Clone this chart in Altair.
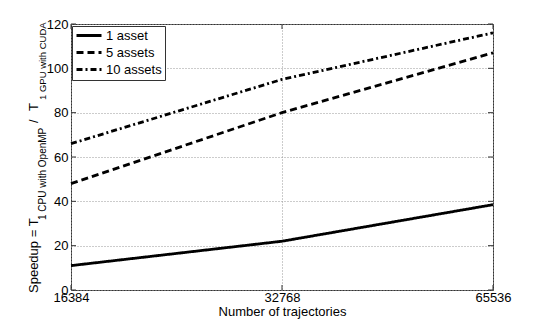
import altair as alt
import pandas as pd

# ---- data ----
trajectories = [16384, 32768, 65536]
series_names = ["1 asset", "5 assets", "10 assets"]
speedup_1 = [11.0, 22.0, 38.5]
speedup_5 = [48.0, 80.0, 107.0]
speedup_10 = [66.0, 95.0, 116.0]
y_ticks = [0, 20, 40, 60, 80, 100, 120]

rows = []
for name, vals in zip(series_names, [speedup_1, speedup_5, speedup_10]):
    for t, v in zip(trajectories, vals):
        rows.append({"trajectories": t, "speedup": v, "series": name})
df = pd.DataFrame(rows)

W, H = 422, 266
FONT = "Liberation Sans"
FRAME = "#333333"

x_scale = alt.Scale(type="log", base=2, domain=[16384, 65536], nice=False)
y_scale = alt.Scale(domain=[0, 120], nice=False)

common_axis = dict(
    domain=False, ticks=False, grid=True, gridDash=[1, 2], gridColor="#999999",
    gridWidth=1, labelFont=FONT, labelFontSize=13, labelColor="black",
    titleFont=FONT, titleFontSize=13, titleColor="black", titleFontWeight="normal",
    labelOverlap=False,
)
x_axis = alt.Axis(values=trajectories, format="d", title="Number of trajectories",
                  labelPadding=1, titlePadding=1, labelFlush=False, **common_axis)
y_axis = alt.Axis(values=y_ticks, title=None, labelPadding=3, **common_axis)

lines = alt.Chart(df).mark_line(strokeWidth=2.8, color="black").encode(
    x=alt.X("trajectories:Q", scale=x_scale, axis=x_axis),
    y=alt.Y("speedup:Q", scale=y_scale, axis=y_axis),
    strokeDash=alt.StrokeDash(
        "series:N",
        scale=alt.Scale(domain=series_names, range=[[1, 0], [7, 4], [6, 3, 2, 3]]),
        legend=alt.Legend(
            title=None, orient="none", legendX=1, legendY=2,
            strokeColor=FRAME, fillColor="white", padding=3,
            symbolType="stroke", symbolSize=625, symbolStrokeWidth=2.8,
            symbolStrokeColor="black", labelFont=FONT, labelFontSize=13,
            labelColor="black", labelOffset=3, rowPadding=3, clipHeight=13,
        ),
    ),
)

yt = pd.DataFrame({"speedup": y_ticks})
xt = pd.DataFrame({"trajectories": trajectories})
tick_style = dict(color=FRAME, strokeWidth=1)
ytick_l = alt.Chart(yt).mark_rule(**tick_style).encode(
    y=alt.Y("speedup:Q", scale=y_scale, axis=y_axis), x=alt.value(0), x2=alt.value(5))
ytick_r = alt.Chart(yt).mark_rule(**tick_style).encode(
    y=alt.Y("speedup:Q", scale=y_scale, axis=y_axis), x=alt.value(W - 5), x2=alt.value(W))
xtick_b = alt.Chart(xt).mark_rule(**tick_style).encode(
    x=alt.X("trajectories:Q", scale=x_scale, axis=x_axis), y=alt.value(H - 5), y2=alt.value(H))
xtick_t = alt.Chart(xt).mark_rule(**tick_style).encode(
    x=alt.X("trajectories:Q", scale=x_scale, axis=x_axis), y=alt.value(0), y2=alt.value(5))

one = pd.DataFrame({"k": [0]})


def title_piece(txt, size, xv, yv):
    return alt.Chart(one).mark_text(
        text=txt, angle=270, fontSize=size, font=FONT, align="left",
        baseline="alphabetic", color="black",
    ).encode(x=alt.value(xv), y=alt.value(yv))


title_parts = [
    title_piece("Speedup = T", 13, -33.5, 269),
    title_piece("1 CPU with OpenMP", 10, -25.5, 196),
    title_piece("/", 13, -33.5, 99),
    title_piece("T", 13, -33.5, 87),
    title_piece("1 GPU with CUDA", 9.5, -25.5, 76),
]

chart = alt.layer(
    lines, ytick_l, ytick_r, xtick_b, xtick_t, *title_parts
).properties(
    width=W, height=H,
    padding={"left": 63, "top": 16, "right": 44, "bottom": 36},
    autosize=alt.AutoSizeParams(type="none"),
).configure_view(stroke=FRAME, strokeWidth=1)

chart.save("out.html", embed_options={"renderer": "svg", "actions": False})
